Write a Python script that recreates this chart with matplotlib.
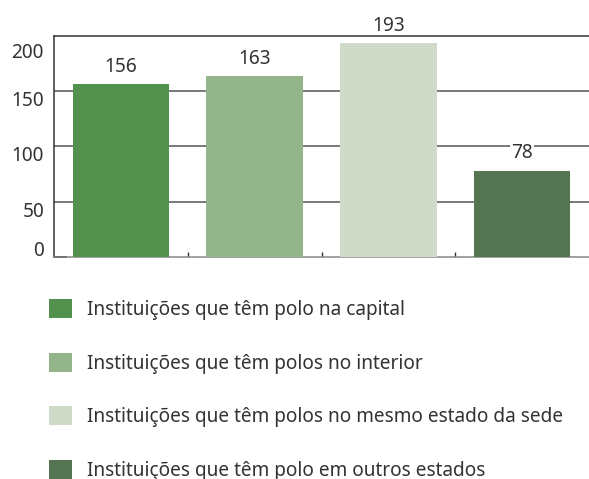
import matplotlib.pyplot as plt
from matplotlib.patches import Patch

plt.rcParams['font.family'] = ['Noto Sans', 'DejaVu Sans']

# dados
categorias = ['Instituições que têm polo na capital',
              'Instituições que têm polos no interior',
              'Instituições que têm polos no mesmo estado da sede',
              'Instituições que têm polo em outros estados']
valores = [156, 163, 193, 78]
cores = ['#53924e', '#94b48a', '#cfdbc8', '#557552']
yticks = [0, 50, 100, 150, 200]

texto = '#333333'
fs = 13.7

fig = plt.figure(figsize=(5.89, 4.79), dpi=100)
ax = fig.add_axes([54/589, 1 - 257/479, 1 - 54/589, (257 - 35.5)/479])

x = list(range(len(valores)))
ax.bar(x, valores, width=0.72, color=cores, zorder=3)
ax.set_xlim(-0.5, 3.5)
ax.set_ylim(0, 200)

# grade
for t in yticks[1:-1]:
    ax.axhline(t, color='#555555', lw=1.1, zorder=1)

ax.spines['right'].set_visible(False)
ax.spines['top'].set_color('#333333')
ax.spines['top'].set_zorder(5)
ax.spines['left'].set_color('#333333')
ax.spines['bottom'].set_color('#888888')
for s in ax.spines.values():
    s.set_linewidth(1.1)

ax.set_xticks([])
ax.set_xticks([0.5, 1.5, 2.5], minor=True)
ax.tick_params(axis='x', which='minor', direction='in', length=3.6, width=1, color='#333333')
ax.set_yticks([0])
ax.set_yticklabels([])
ax.tick_params(axis='y', direction='in', length=9.5, width=1.4, color='#333333')

# rótulos do eixo y, alinhados como no original
for t in yticks:
    if t == 0:
        va, dy = 'bottom', -4
    elif t == 200:
        va, dy = 'top', -7
    else:
        va, dy = 'top', 0
    ax.annotate(str(t), xy=(0, t), xycoords=('axes fraction', 'data'),
                xytext=(-7.2, dy * 0.72), textcoords='offset points',
                ha='right', va=va, fontsize=fs, color=texto)

# valores acima das barras
for xi, v in zip(x, valores):
    ax.annotate(str(v), xy=(xi, v), xytext=(0, 12.5), textcoords='offset points',
                ha='center', va='center', fontsize=fs, color=texto, zorder=4,
                bbox=dict(facecolor='white', edgecolor='none', pad=0.5))

handles = [Patch(facecolor=c, edgecolor='none') for c in cores]
leg = fig.legend(handles, categorias, loc='upper left',
                 bbox_to_anchor=(49/589, 1 - 299/479), frameon=False,
                 fontsize=fs, handlelength=1.22, handleheight=1.16,
                 handletextpad=0.8, labelspacing=1.72, borderpad=0,
                 borderaxespad=0)
for t in leg.get_texts():
    t.set_color(texto)

fig.savefig('out.png', dpi=100)
